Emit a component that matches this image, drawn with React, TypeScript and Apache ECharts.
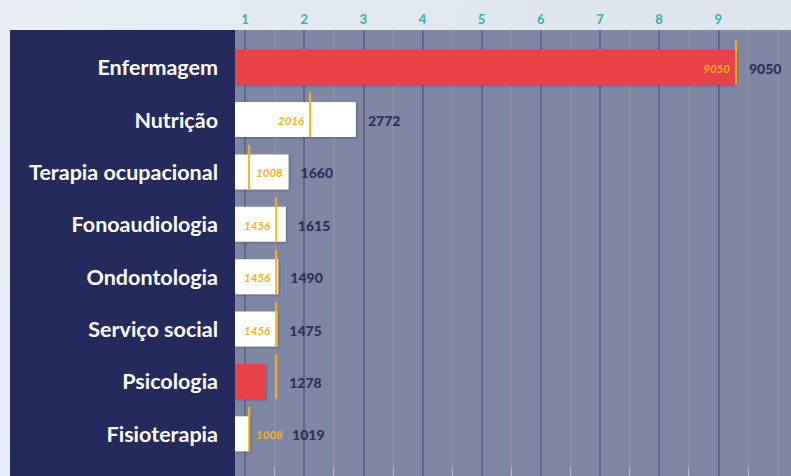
import React, { useEffect, useRef } from 'react';
import * as echarts from 'echarts';

const categories = [
  'Enfermagem',
  'Nutrição',
  'Terapia ocupacional',
  'Fonoaudiologia',
  'Ondontologia',
  'Serviço social',
  'Psicologia',
  'Fisioterapia',
];
const totals = [9050, 2772, 1660, 1615, 1490, 1475, 1278, 1019];
const references = [9050, 2016, 1008, 1456, 1456, 1456, 1456, 1008];
const highlighted = ['Enfermagem', 'Psicologia'];
const tickLabels = ['1', '2', '3', '4', '5', '6', '7', '8', '9'];

const W = 791;
const H = 476;
const NAVY = '#252a5c';
const GRAY = '#7f87a5';
const RED = '#e8434a';
const WHITE = '#ffffff';
const ORANGE = '#f3b31a';
const TEAL = '#2bb3ad';
const VALUE_COLOR = '#2b2f5e';
const MAJOR = '#575c7c';
const MINOR = '#938ea6';
const BAR_H = 35;

export default function App() {
  const ref = useRef<HTMLDivElement>(null);
  useEffect(() => {
    if (!ref.current) return;
    const chart = echarts.init(ref.current, null, { renderer: 'svg', width: W, height: H });

    const splitColors = [MAJOR, MAJOR, MAJOR, MAJOR, MAJOR, MAJOR, MAJOR, MAJOR, MAJOR, MINOR, MINOR];

    const option: any = {
      animation: false,
      backgroundColor: 'transparent',
      grid: [
        { left: 245, right: -16, top: 30, bottom: 0, outerBoundsMode: 'none' },
        { left: 235, right: 0, top: 41, bottom: 16, outerBoundsMode: 'none' },
      ],
      xAxis: [
        {
          gridIndex: 0,
          type: 'value',
          position: 'top',
          min: 1000,
          max: 10500,
          interval: 1000,
          z: 1,
          axisLine: { show: true, lineStyle: { color: '#a4aac2', width: 1 } },
          axisTick: { show: false },
          minorTick: { show: true, splitNumber: 2, length: 9, lineStyle: { color: '#b9bccb', width: 1 } },
          minorSplitLine: { show: true, lineStyle: { color: MINOR, width: 1.5 } },
          splitLine: { show: true, lineStyle: { color: splitColors, width: 1.5 } },
          axisLabel: {
            show: true,
            margin: 5,
            color: TEAL,
            fontFamily: 'Lato',
            fontWeight: 'bold',
            fontSize: 13,
            formatter: (v: number) => {
              const k = Math.round(v / 1000);
              return Math.abs(v - k * 1000) < 1 && tickLabels.includes(String(k)) ? String(k) : '';
            },
          },
        },
        {
          gridIndex: 1,
          type: 'value',
          min: 775,
          max: 9960,
          show: false,
        },
      ],
      yAxis: [
        { gridIndex: 0, type: 'value', show: false },
        {
          gridIndex: 1,
          type: 'category',
          data: categories,
          inverse: true,
          z: 20,
          axisLine: { show: false },
          axisTick: { show: false },
          splitLine: { show: false },
          axisLabel: {
            margin: 17,
            color: '#ffffff',
            fontFamily: 'Lato',
            fontWeight: 'bold',
            fontSize: 21.5,
          },
        },
      ],
      graphic: [
        {
          type: 'rect',
          z: -10,
          silent: true,
          shape: { x: 180, y: 30, width: W - 180, height: H - 30 },
          style: { fill: GRAY },
        },
        {
          type: 'rect',
          z: 10,
          silent: true,
          shape: { x: 10, y: 30, width: 225, height: H - 30 },
          style: { fill: NAVY },
        },
      ],
      series: [
        {
          type: 'bar',
          xAxisIndex: 1,
          yAxisIndex: 1,
          barWidth: BAR_H,
          z: 2,
          data: totals.map((v, i) => ({
            value: v,
            itemStyle: {
              color: highlighted.includes(categories[i]) ? RED : WHITE,
              shadowColor: 'rgba(30,30,70,0.35)',
              shadowBlur: 2,
              shadowOffsetX: 1,
              shadowOffsetY: 1,
            },
          })),
        },
        {
          type: 'custom',
          xAxisIndex: 1,
          yAxisIndex: 1,
          z: 3,
          encode: { x: 0, y: 1 },
          data: categories.map((c, i) => [references[i], i, totals[i]]),
          renderItem: (params: any, api: any) => {
            const ref = api.value(0);
            const idx = api.value(1);
            const total = api.value(2);
            const [mx, cy] = api.coord([ref, idx]);
            const [bx] = api.coord([total, idx]);
            const startX = params.coordSys.x;
            const top = cy - BAR_H / 2;
            const bottom = cy + BAR_H / 2;
            const children: any[] = [
              {
                type: 'line',
                shape: { x1: mx, y1: top - 9.5, x2: mx, y2: bottom },
                style: { stroke: ORANGE, lineWidth: 2 },
              },
            ];
            let rightMost = Math.max(bx, mx + 1);
            if (total >= ref) {
              const txt = String(ref);
              const leftSide = mx - startX > 30;
              const tw = txt.length * 6;
              const lx = leftSide ? mx - 6 : mx + 7;
              if (!leftSide) rightMost = Math.max(rightMost, lx + tw);
              children.push({
                type: 'text',
                x: lx,
                y: cy + 1,
                style: {
                  text: txt,
                  fill: ORANGE,
                  fontFamily: 'Lato',
                  fontStyle: 'italic',
                  fontWeight: 'bold',
                  fontSize: 11.5,
                  align: leftSide ? 'right' : 'left',
                  verticalAlign: 'middle',
                },
              });
            }
            children.push({
              type: 'text',
              x: rightMost + 12,
              y: cy + 1,
              style: {
                text: String(total),
                fill: VALUE_COLOR,
                fontFamily: 'Lato',
                fontWeight: 900,
                fontSize: 14,
                align: 'left',
                verticalAlign: 'middle',
              },
            });
            return { type: 'group', children };
          },
        },
      ],
    };

    chart.setOption(option);
    return () => chart.dispose();
  }, []);

  return (
    <div
      style={{
        position: 'fixed',
        left: 0,
        top: 0,
        width: W,
        height: H,
        background: 'linear-gradient(100deg, #eaf0f6 0%, #e2e8f0 45%, #dde3ec 100%)',
      }}
    >
      <div ref={ref} style={{ width: W, height: H }} />
    </div>
  );
}
